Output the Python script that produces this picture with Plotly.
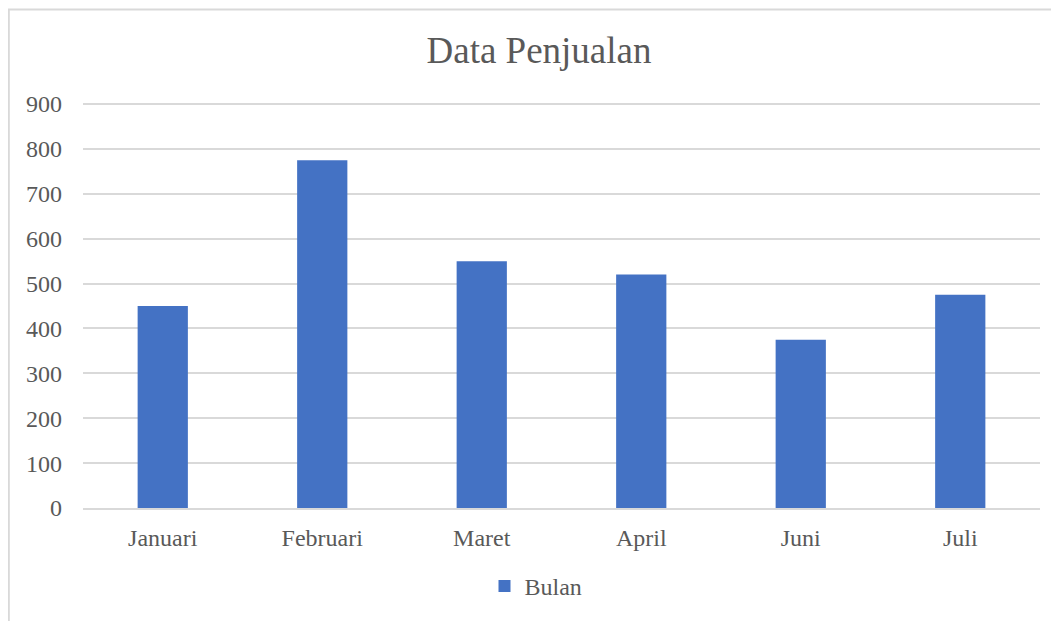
import plotly.graph_objects as go

categories = ["Januari", "Februari", "Maret", "April", "Juni", "Juli"]
values = [450, 775, 550, 520, 375, 475]
series_name = "Bulan"

# page body has an 8px margin, so figure coordinates = screen coordinates - 8
W, H = 1051, 613
L, R, T, B = 75, 19, 92, 110
pw, ph = W - L - R, H - T - B

fig = go.Figure(go.Bar(x=categories, y=values, name=series_name,
                       marker=dict(color="#4472C4", line=dict(width=0)),
                       showlegend=True))

font_family = "Liberation Serif"
fig.update_layout(
    width=W, height=H,
    margin=dict(l=L, r=R, t=T, b=B),
    paper_bgcolor="white", plot_bgcolor="white",
    font=dict(family=font_family, color="#595959", size=24),
    title=dict(text="Data Penjualan", x=(539 - 8) / W, xanchor="center", y=1 - 42 / H, yanchor="middle",
               font=dict(size=37, color="#595959", family=font_family)),
    bargap=0.685,
    showlegend=True,
    legend=dict(orientation="h", x=(536 - 8 - L) / pw, xanchor="center",
                y=-(582 - (H - B)) / ph, yanchor="middle",
                font=dict(size=24, color="#595959")),
    xaxis=dict(showgrid=False, showline=True, linecolor="#d9d9d9", linewidth=2,
               ticks="", ticklabelstandoff=7, tickfont=dict(size=24)),
    yaxis=dict(range=[0, 909], tickvals=[0, 100, 200, 300, 400, 500, 600, 700, 800, 900],
               showgrid=True, gridcolor="#d9d9d9", gridwidth=2,
               zeroline=False, showline=False, ticks="", ticklabelstandoff=20,
               tickfont=dict(size=24)),
)

x0 = (0.8 - L) / pw
y1 = ((H - B) - 0.8) / ph
fig.add_shape(type="rect", xref="paper", yref="paper", x0=x0, x1=1.2, y0=-0.5, y1=y1,
              line=dict(color="#d9d9d9", width=2), fillcolor="rgba(0,0,0,0)", layer="below")

fig.write_html("out.html")
